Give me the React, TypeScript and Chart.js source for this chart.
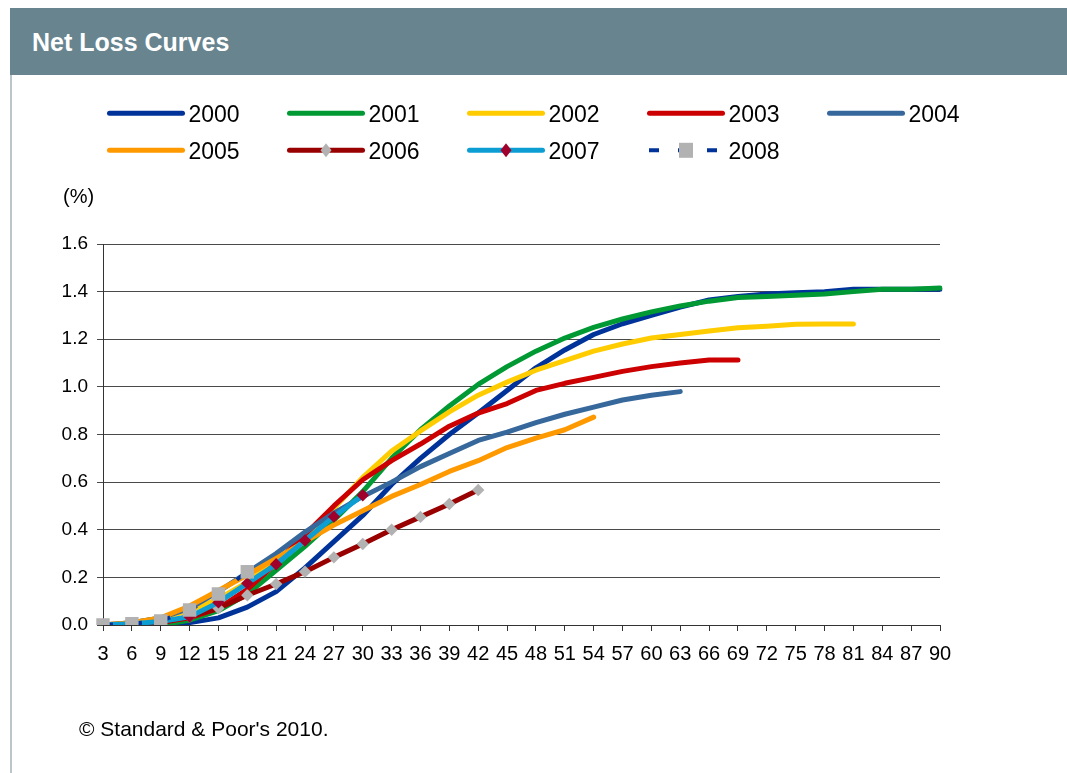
import React, { useEffect, useRef } from 'react';
import { Chart, registerables } from 'chart.js';

Chart.register(...registerables);

const MONTHS = ['3', '6', '9', '12', '15', '18', '21', '24', '27', '30', '33', '36', '39', '42', '45', '48', '51', '54', '57', '60', '63', '66', '69', '72', '75', '78', '81', '84', '87', '90'];
const YEARS = ['2000', '2001', '2002', '2003', '2004', '2005', '2006', '2007', '2008'];

const S2000 = [0, 0, 0, 0.01, 0.03, 0.075, 0.14, 0.24, 0.35, 0.46, 0.59, 0.70, 0.80, 0.89, 0.985, 1.08, 1.155, 1.22, 1.265, 1.30, 1.335, 1.365, 1.38, 1.39, 1.395, 1.40, 1.41, 1.41, 1.41, 1.41];
const S2001 = [0, 0, 0, 0.02, 0.06, 0.13, 0.23, 0.33, 0.44, 0.56, 0.70, 0.82, 0.92, 1.01, 1.085, 1.15, 1.205, 1.25, 1.285, 1.315, 1.34, 1.36, 1.375, 1.38, 1.385, 1.39, 1.40, 1.41, 1.41, 1.415];
const S2002 = [0, 0.01, 0.03, 0.06, 0.11, 0.18, 0.27, 0.37, 0.49, 0.62, 0.73, 0.815, 0.895, 0.965, 1.02, 1.07, 1.11, 1.15, 1.18, 1.205, 1.22, 1.235, 1.248, 1.255, 1.263, 1.264, 1.264];
const S2003 = [0, 0, 0.01, 0.03, 0.07, 0.15, 0.26, 0.38, 0.50, 0.61, 0.69, 0.76, 0.835, 0.89, 0.93, 0.985, 1.015, 1.04, 1.065, 1.085, 1.10, 1.113, 1.113];
const S2004 = [0, 0.01, 0.03, 0.07, 0.14, 0.22, 0.30, 0.39, 0.47, 0.54, 0.60, 0.665, 0.72, 0.775, 0.81, 0.85, 0.885, 0.915, 0.945, 0.965, 0.98];
const S2005 = [0, 0.01, 0.03, 0.08, 0.145, 0.21, 0.28, 0.35, 0.42, 0.48, 0.54, 0.59, 0.645, 0.69, 0.745, 0.785, 0.82, 0.873];
const S2006 = [0, 0, 0.01, 0.035, 0.07, 0.125, 0.172, 0.224, 0.284, 0.34, 0.40, 0.454, 0.508, 0.567];
const S2007 = [0, 0.005, 0.015, 0.035, 0.095, 0.175, 0.255, 0.355, 0.455, 0.545];
const S2008 = [0, 0.005, 0.017, 0.063, 0.13, 0.224];

const SERIES = [S2000, S2001, S2002, S2003, S2004, S2005, S2006, S2007, S2008];

type Style = { color: string; marker?: string; markerColor?: string; markerRadius?: number; dash?: number[] };
const STYLES: Style[] = [
  { color: '#003399' },
  { color: '#009933' },
  { color: '#ffcc00' },
  { color: '#cc0000' },
  { color: '#37689c' },
  { color: '#ff9900' },
  { color: '#990000', marker: 'rectRot', markerColor: '#b2b2b2', markerRadius: 6.2 },
  { color: '#0c9ed3', marker: 'rectRot', markerColor: '#a0002c', markerRadius: 6.2 },
  { color: '#003399', marker: 'rect', markerColor: '#b2b2b2', markerRadius: 9.5, dash: [10, 19] },
];

const FONT = '"Liberation Sans", Arial, sans-serif';

const legendPlugin = {
  id: 'customLegend',
  afterDraw(chart: any) {
    const ctx: CanvasRenderingContext2D = chart.ctx;
    ctx.save();
    YEARS.forEach((year, i) => {
      const st = STYLES[i];
      const col = i % 5;
      const row = Math.floor(i / 5);
      const x0 = 107 + col * 180;
      const y = 113.3 + row * 37;
      ctx.beginPath();
      ctx.strokeStyle = st.color;
      if (st.dash) {
        ctx.lineWidth = 4;
        ctx.lineCap = 'butt';
        ctx.setLineDash(st.dash);
        ctx.moveTo(x0 + 2, y);
        ctx.lineTo(x0 + 78, y);
      } else {
        ctx.lineWidth = 5;
        ctx.lineCap = 'round';
        ctx.setLineDash([]);
        ctx.moveTo(x0 + 2.5, y);
        ctx.lineTo(x0 + 75.5, y);
      }
      ctx.stroke();
      ctx.setLineDash([]);
      const cx = x0 + 39;
      if (st.marker === 'rectRot') {
        ctx.fillStyle = st.markerColor as string;
        ctx.beginPath();
        ctx.moveTo(cx, y - 7);
        ctx.lineTo(cx + 5.5, y);
        ctx.lineTo(cx, y + 7);
        ctx.lineTo(cx - 5.5, y);
        ctx.closePath();
        ctx.fill();
      } else if (st.marker === 'rect') {
        ctx.fillStyle = st.markerColor as string;
        ctx.fillRect(cx - 7, y - 7.5, 14, 15);
      }
      ctx.fillStyle = '#000';
      ctx.font = `23px ${FONT}`;
      ctx.textAlign = 'left';
      ctx.textBaseline = 'alphabetic';
      ctx.fillText(year, x0 + 81.5, y + 8.2);
    });
    ctx.restore();
  },
};

export default function App() {
  const ref = useRef<HTMLCanvasElement | null>(null);

  useEffect(() => {
    if (!ref.current) return;
    const datasets = SERIES.map((data, i) => {
      const st = STYLES[i];
      return {
        label: YEARS[i],
        data,
        borderColor: st.color,
        backgroundColor: st.color,
        borderWidth: st.dash ? 4 : 5,
        borderDash: st.dash || [],
        borderCapStyle: (st.dash ? 'butt' : 'round') as any,
        borderJoinStyle: 'round' as any,
        tension: 0,
        fill: false,
        pointStyle: (st.marker || 'circle') as any,
        pointRadius: st.marker ? (st.markerRadius as number) : 0,
        pointHoverRadius: st.marker ? (st.markerRadius as number) : 0,
        pointBackgroundColor: st.markerColor || st.color,
        pointBorderColor: st.markerColor || st.color,
        pointBorderWidth: 0,
        order: 8 - i,
      };
    });

    const chart = new Chart(ref.current, {
      type: 'line',
      data: { labels: MONTHS, datasets },
      options: {
        responsive: false,
        animation: false,
        layout: { padding: { left: 40, right: 127, top: 244, bottom: 88 } },
        plugins: {
          legend: { display: false },
          tooltip: { enabled: false },
          title: { display: false },
        },
        scales: {
          x: {
            offset: false,
            grid: { display: true, drawOnChartArea: false, drawTicks: true, tickLength: 6, color: '#333333', lineWidth: 1 },
            border: { display: true, color: '#333333', width: 1 },
            ticks: {
              autoSkip: false,
              maxRotation: 0,
              minRotation: 0,
              padding: 11,
              color: '#000',
              font: { family: FONT, size: 20 },
            },
            afterFit: (s: any) => {
              s.height = 60;
            },
          },
          y: {
            min: 0,
            max: 1.6,
            ticks: {
              stepSize: 0.2,
              padding: 9,
              color: '#000',
              font: { family: FONT, size: 19 },
              callback: (v: any) => Number(v).toFixed(1),
            },
            grid: { color: '#4a4a4a', lineWidth: 1, drawTicks: true, tickLength: 6 },
            border: { display: true, color: '#333333', width: 1 },
            afterFit: (s: any) => {
              s.width = 63;
            },
          },
        },
      } as any,
      plugins: [legendPlugin],
    });
    return () => chart.destroy();
  }, []);

  return (
    <div style={{ position: 'absolute', left: 0, top: 0, width: 1067, height: 773, background: '#fff', overflow: 'hidden', fontFamily: FONT }}>
      <canvas ref={ref} width={1067} height={773} style={{ position: 'absolute', left: 0, top: 0, width: 1067, height: 773 }} />
      <div style={{ position: 'absolute', left: 10, top: 8, width: 1057, height: 67, background: '#67848f' }}>
        <div style={{ position: 'absolute', left: 22, top: 21.5, font: `700 25px ${FONT}`, lineHeight: '25px', color: '#fff', whiteSpace: 'nowrap' }}>
          Net Loss Curves
        </div>
      </div>
      <div style={{ position: 'absolute', left: 10, top: 75, width: 2, height: 698, background: '#bcc5ca' }} />
      <div style={{ position: 'absolute', left: 63, top: 186, font: `20px ${FONT}`, lineHeight: '20px', color: '#000', whiteSpace: 'nowrap' }}>(%)</div>
      <div style={{ position: 'absolute', left: 79, top: 718, font: `21px ${FONT}`, lineHeight: '21px', color: '#000', whiteSpace: 'nowrap' }}>
        © Standard &amp; Poor's 2010.
      </div>
    </div>
  );
}
